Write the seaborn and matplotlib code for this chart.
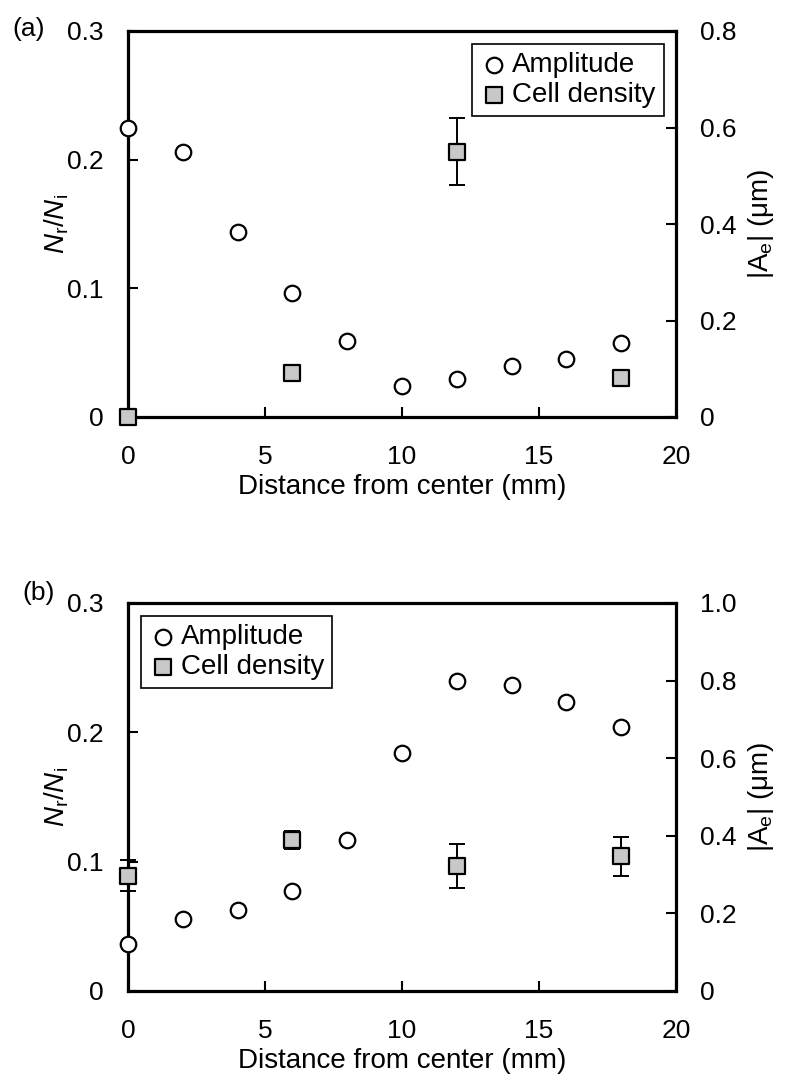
import matplotlib
matplotlib.use("Agg")
import matplotlib.pyplot as plt
from matplotlib.ticker import FuncFormatter, FixedLocator
import seaborn as sns

# Radial positions (mm) and measured quantities
distance = [0, 2, 4, 6, 8, 10, 12, 14, 16, 18]
density_pos = [0, 6, 12, 18]

amp_a = [0.600, 0.550, 0.383, 0.257, 0.157, 0.064, 0.079, 0.105, 0.120, 0.153]
dens_a = [0.0, 0.034, 0.206, 0.030]
dens_a_err = [0.0, 0.006, 0.026, 0.0]

amp_b = [0.120, 0.186, 0.210, 0.257, 0.388, 0.614, 0.798, 0.789, 0.744, 0.680]
dens_b = [0.089, 0.117, 0.097, 0.104]
dens_b_err = [0.012, 0.007, 0.017, 0.015]

x_ticks = [0, 5, 10, 15, 20]
left_ticks = [0, 0.1, 0.2, 0.3]
right_ticks_a = [0, 0.2, 0.4, 0.6, 0.8]
right_ticks_b = [0, 0.2, 0.4, 0.6, 0.8, 1.0]

sns.set_theme(style="white")
plt.rcParams["font.family"] = ["Liberation Sans", "DejaVu Sans"]
plt.rcParams["mathtext.fontset"] = "custom"
plt.rcParams["mathtext.rm"] = "Liberation Sans"
plt.rcParams["mathtext.it"] = "Liberation Sans:italic"
plt.rcParams["axes.unicode_minus"] = False
plt.rcParams["text.color"] = "black"
plt.rcParams["axes.labelcolor"] = "black"

W, H = 787, 1076
fig = plt.figure(figsize=(W / 100, H / 100), dpi=100)
fig.patch.set_facecolor("white")

TICK_FS = 19
LABEL_FS = 20
SPINE_LW = 2.3
FILL_GRAY = "#c8c8c8"


def fmt(v, _):
    return "0" if abs(v) < 1e-9 else f"{v:.1f}"


def panel(rect, amp, dens, dens_err, amp_ticks, legend_loc, tag, tag_xy):
    ax = fig.add_axes(rect)
    ax2 = ax.twinx()

    ax.errorbar(density_pos, dens, yerr=dens_err, fmt="none", ecolor="black",
                elinewidth=1.4, capsize=6, capthick=1.4, zorder=3, clip_on=False)
    sns.scatterplot(x=density_pos, y=dens, ax=ax, marker="s", s=135,
                    color=FILL_GRAY, edgecolor="black", linewidth=1.6,
                    zorder=4, clip_on=False, label="Cell density", legend=False)
    sns.scatterplot(x=distance, y=amp, ax=ax2, marker="o", s=125,
                    color="white", edgecolor="black", linewidth=1.6,
                    zorder=4, clip_on=False, label="Amplitude", legend=False)

    ax.set_xlim(0, 20)
    ax.set_ylim(0, 0.3)
    ax2.set_ylim(0, amp_ticks[-1])

    ax.xaxis.set_major_locator(FixedLocator(x_ticks))
    ax.yaxis.set_major_locator(FixedLocator(left_ticks))
    ax2.yaxis.set_major_locator(FixedLocator(amp_ticks))
    ax.xaxis.set_major_formatter(FuncFormatter(lambda v, _: f"{v:.0f}"))
    ax.yaxis.set_major_formatter(FuncFormatter(fmt))
    ax2.yaxis.set_major_formatter(FuncFormatter(fmt))

    for side in ("left", "bottom", "top"):
        ax.spines[side].set_linewidth(SPINE_LW)
        ax.spines[side].set_color("black")
        ax2.spines[side].set_visible(False)
    ax.spines["right"].set_visible(False)
    ax2.spines["right"].set_linewidth(SPINE_LW)
    ax2.spines["right"].set_color("black")

    ax.tick_params(axis="x", direction="in", length=7, width=1.5, colors="black",
                   labelsize=TICK_FS, pad=20, bottom=True, top=False)
    ax.tick_params(axis="y", direction="in", length=7, width=1.5, colors="black",
                   labelsize=TICK_FS, pad=17.5, left=True, right=False)
    ax2.tick_params(axis="y", direction="in", length=7, width=1.5, colors="black",
                    labelsize=TICK_FS, pad=17, right=True, left=False)

    ax.set_xlabel("Distance from center (mm)", fontsize=LABEL_FS, color="black",
                  labelpad=4)
    ax.set_ylabel(r"$N_\mathrm{r}/N_\mathrm{i}$", fontsize=LABEL_FS, color="black")
    ax.yaxis.set_label_coords(-0.104, 0.5)
    ax2.set_ylabel(r"|A$_\mathrm{e}$| (μm)", fontsize=LABEL_FS, color="black")
    ax2.yaxis.set_label_coords(1.128, 0.5)

    handles = [ax2.collections[0], ax.collections[-1]]
    leg = ax2.legend(handles=handles, labels=["Amplitude", "Cell density"],
                     loc=legend_loc, frameon=True, fancybox=False,
                     edgecolor="black", framealpha=1, fontsize=LABEL_FS,
                     markerscale=1.0, handletextpad=0.15, borderpad=0.3,
                     labelspacing=0.15, handlelength=1.0, borderaxespad=0.45)
    leg.get_frame().set_linewidth(1.2)
    for t in leg.get_texts():
        t.set_color("black")

    fig.text(tag_xy[0] / W, 1 - tag_xy[1] / H, tag, fontsize=TICK_FS,
             ha="left", va="center", color="black")
    return ax, ax2


panel([128 / W, 1 - 417 / H, 548 / W, 386 / H], amp_a, dens_a, dens_a_err,
      right_ticks_a, "upper right", "(a)", (12, 29))
panel([128 / W, 1 - 991 / H, 548 / W, 388 / H], amp_b, dens_b, dens_b_err,
      right_ticks_b, "upper left", "(b)", (22, 593))

fig.savefig("out.png", dpi=100, facecolor="white")
